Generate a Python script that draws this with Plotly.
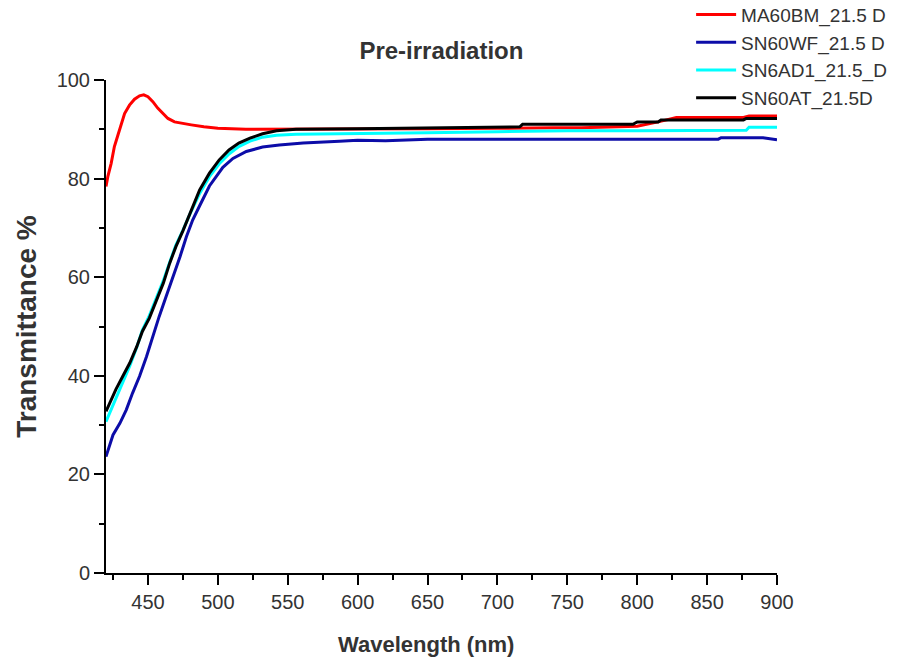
import plotly.graph_objects as go

# ---- data ----
red_name = "MA60BM_21.5 D"
red_wl = [420, 421.3, 423.7, 426, 428.5, 431, 433.3, 436.8, 440.4, 444, 447, 450, 453.5, 457,
          460.7, 464.3, 469, 474, 481, 490, 500, 520, 550, 600, 650, 700, 720, 740, 760, 780,
          800, 815, 828, 850, 876, 880, 900]
red_t = [78.4, 80.4, 83.1, 86.5, 88.8, 91.2, 93.2, 94.9, 96.1, 96.8, 97.0, 96.6, 95.6, 94.3,
         93.2, 92.2, 91.5, 91.2, 90.9, 90.5, 90.2, 90.0, 90.0, 90.0, 90.1, 90.2, 90.3, 90.3, 90.3, 90.4,
         90.6, 91.5, 92.4, 92.4, 92.4, 92.7, 92.7]

blue_name = "SN60WF_21.5 D"
blue_wl = [420, 422.5, 425, 430, 434.5, 439, 444, 449, 453.5, 458, 463, 468, 473, 477.5, 482,
           487, 494, 503.6, 510.8, 520.4, 532, 544, 561, 587, 600, 620, 650, 700, 800, 858,
           860, 890, 900]
blue_t = [23.6, 25.7, 28.0, 30.4, 33.1, 36.5, 39.9, 43.9, 48.0, 52.0, 56.1, 60.1, 64.2, 68.2, 71.6,
          74.5, 78.5, 82.3, 84.1, 85.5, 86.4, 86.8, 87.2, 87.6, 87.8, 87.7, 88.0, 88.0, 88.0, 88.0,
          88.3, 88.3, 87.9]

cyan_name = "SN6AD1_21.5_D"
cyan_wl = [420, 422.5, 427, 432, 437, 442, 446, 451, 456, 461, 465.5, 470, 475, 480, 487, 494,
           501, 508, 515, 523, 532, 542, 556, 600, 650, 700, 750, 800, 878, 880, 900]
cyan_t = [30.7, 32.4, 35.1, 38.5, 42.0, 45.8, 49.3, 52.2, 55.8, 59.3, 63.0, 66.5, 69.5, 72.8, 77.0,
          80.4, 83.0, 85.0, 86.5, 87.6, 88.4, 88.8, 89.0, 89.2, 89.3, 89.5, 89.7, 89.7, 89.8, 90.4, 90.4]

black_name = "SN60AT_21.5D"
black_wl = [420, 422.5, 427, 432, 437, 442, 446, 451, 456, 461, 465.5, 470, 475, 480, 487, 494,
            501, 508, 515, 523, 532, 542, 556, 600, 650, 700, 716, 718, 797, 800, 815, 817, 876,
            878, 900]
black_t = [32.8, 34.5, 37.2, 39.9, 42.6, 45.9, 49.0, 51.7, 55.4, 58.8, 62.8, 66.2, 69.4, 72.8, 77.7,
           81.1, 83.8, 85.8, 87.2, 88.2, 89.1, 89.7, 90.0, 90.1, 90.3, 90.5, 90.5, 91.0, 91.0, 91.5,
           91.5, 91.9, 91.9, 92.2, 92.2]

x_ticks = [450, 500, 550, 600, 650, 700, 750, 800, 850, 900]
y_ticks = [0, 20, 40, 60, 80, 100]

title_text = "Pre-irradiation"
x_title = "Wavelength (nm)"
y_title = "Transmittance %"

FONT = "Liberation Sans, Arial, sans-serif"
TXT = "#333333"

fig = go.Figure()
series = [
    (red_name, red_wl, red_t, "#ff0000"),
    (blue_name, blue_wl, blue_t, "#0c0ca8"),
    (cyan_name, cyan_wl, cyan_t, "#00ffff"),
    (black_name, black_wl, black_t, "#000000"),
]
for name, wl, t, col in series:
    fig.add_trace(go.Scatter(x=wl, y=t, mode="lines", name=name,
                             line=dict(color=col, width=3)))

fig.update_layout(
    width=899, height=660,
    margin=dict(l=106, r=122, t=80, b=87, autoexpand=False),
    paper_bgcolor="white", plot_bgcolor="white",
    font=dict(family=FONT, size=20, color=TXT),
    showlegend=True,
    legend=dict(x=0.872, y=1.171, xanchor="left", yanchor="top",
                bgcolor="rgba(0,0,0,0)", font=dict(size=19, color=TXT),
                tracegroupgap=0, itemwidth=40),
    title=dict(text="<b>" + title_text + "</b>", x=0.491, xanchor="center",
               y=0.924, yanchor="middle", font=dict(size=24, color=TXT, family=FONT)),
    annotations=[dict(text="<b>" + x_title + "</b>", xref="paper", yref="paper",
                      x=0.477, y=-0.145, xanchor="center", yanchor="middle",
                      showarrow=False, font=dict(size=22, color=TXT, family=FONT))],
)
fig.update_xaxes(range=[420, 900], tickvals=x_ticks, ticks="outside", ticklen=10, tickwidth=2,
                 showline=True, linecolor="black", linewidth=2, showgrid=False, zeroline=False,
                 minor=dict(ticks="outside", ticklen=5, tickwidth=2, dtick=25, tick0=425, tickcolor="black"),
                 tickcolor="black", tickfont=dict(size=20, color=TXT))
fig.update_yaxes(range=[0, 100], tickvals=y_ticks, ticks="outside", ticklen=10, tickwidth=2,
                 showline=True, linecolor="black", linewidth=2, showgrid=False, zeroline=False,
                 minor=dict(ticks="outside", ticklen=5, tickwidth=2, dtick=10, tick0=10, tickcolor="black"),
                 tickcolor="black", tickfont=dict(size=20, color=TXT),
                 title=dict(text="<b>" + y_title + "</b>", font=dict(size=28, color=TXT), standoff=12))

fig.write_html("out.html")
